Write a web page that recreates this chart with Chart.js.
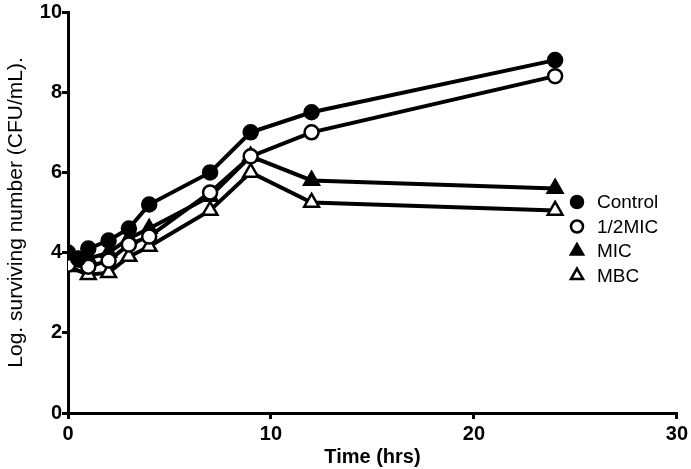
<!DOCTYPE html>
<html>
<head>
<meta charset="utf-8">
<script src="https://cdn.jsdelivr.net/npm/chart.js@4/dist/chart.umd.min.js"></script>
<style>
  html, body { margin: 0; padding: 0; background: #fff; }
  #wrap { width: 691px; height: 469px; position: relative; }
</style>
</head>
<body>
<div id="wrap"><canvas id="myChart"></canvas></div>
<script>
// time points (hrs)
const times = [0, 0.5, 1, 2, 3, 4, 7, 9, 12, 24];

// log CFU/mL (null = no point at that time)
const control = [4.0, 3.85, 4.1, 4.3, 4.6, 5.2, 6.0, 7.0, 7.5, 8.8];
const halfMic = [3.7, null, 3.65, 3.8, 4.2, 4.4, 5.5, 6.4, 7.0, 8.4];
const mic = [3.95, 3.8, 3.85, 4.0, 4.35, 4.6, 5.4, 6.4, 5.8, 5.6];
const mbc = [3.65, null, 3.45, 3.5, 3.9, 4.15, 5.05, 6.0, 5.25, 5.05];

const seriesLabels = ["Control", "1/2MIC", "MIC", "MBC"];
const xTicks = [0, 10, 20, 30];
const yTicks = [0, 2, 4, 6, 8, 10];

function toPoints(vals) {
    return times.map((t, i) => ({ x: t, y: vals[i] }));
}

function makeSet(label, vals, style, fill) {
    return {
        label: label,
        data: toPoints(vals),
        borderColor: "#000",
        borderWidth: 4,
        pointStyle: style,
        pointRadius: style === "triangle" ? 8.5 : 7,
        pointBorderWidth: 2.5,
        pointBorderColor: "#000",
        pointBackgroundColor: fill,
        spanGaps: true,
        tension: 0,
    };
}

// legend drawn at the right, inside the plot
const sideLegend = {
    id: "sideLegend",
    afterDatasetsDraw(chart) {
        const ctx = chart.ctx;
        const x0 = 577, y0 = 202, step = 24.5;
        ctx.save();
        chart.data.datasets.forEach((ds, i) => {
            const y = y0 + i * step;
            ctx.fillStyle = ds.pointBackgroundColor;
            ctx.strokeStyle = "#000";
            ctx.lineWidth = 2.5;
            Chart.helpers.drawPoint(ctx, {
                pointStyle: ds.pointStyle,
                radius: ds.pointStyle === "triangle" ? 7 : 6,
                borderWidth: 2.5
            }, x0, y);
            ctx.fillStyle = "#000";
            ctx.font = "19px 'Liberation Sans', Arial, sans-serif";
            ctx.textBaseline = "middle";
            ctx.textAlign = "left";
            ctx.fillText(ds.label, x0 + 20, y + 1);
        });
        ctx.restore();
    }
};

const ctx = document.getElementById("myChart").getContext("2d");

new Chart(ctx, {
    type: "line",
    data: {
        datasets: [
            makeSet(seriesLabels[0], control, "circle", "#000"),
            makeSet(seriesLabels[1], halfMic, "circle", "#fff"),
            makeSet(seriesLabels[2], mic, "triangle", "#000"),
            makeSet(seriesLabels[3], mbc, "triangle", "#fff"),
        ],
    },
    options: {
        responsive: true,
        maintainAspectRatio: false,
        animation: false,
        layout: { padding: { top: 8, right: 10, left: 0, bottom: 0 } },
        plugins: {
            legend: { display: false },
            tooltip: { enabled: false },
        },
        scales: {
            x: {
                type: "linear",
                min: 0,
                max: 30,
                afterFit: (s) => { s.height = 56; },
                afterBuildTicks: (s) => { s.ticks = xTicks.map(v => ({ value: v })); },
                border: { display: true, color: "#000", width: 3 },
                grid: { drawOnChartArea: false, drawTicks: true, tickLength: 6, color: "#000", lineWidth: 3 },
                ticks: {
                    color: "#000",
                    padding: 3,
                    maxRotation: 0,
                    font: { family: "'Liberation Sans', Arial, sans-serif", size: 20, weight: "bold" },
                },
                title: {
                    display: true,
                    text: "Time (hrs)",
                    color: "#000",
                    padding: { top: 0, bottom: 0 },
                    font: { family: "'Liberation Sans', Arial, sans-serif", size: 20, weight: "bold" },
                },
            },
            y: {
                min: 0,
                max: 10,
                afterFit: (s) => { s.width = 68; },
                afterBuildTicks: (s) => { s.ticks = yTicks.map(v => ({ value: v })); },
                border: { display: true, color: "#000", width: 3 },
                grid: { drawOnChartArea: false, drawTicks: true, tickLength: 6, color: "#000", lineWidth: 3 },
                ticks: {
                    color: "#000",
                    padding: 0,
                    font: { family: "'Liberation Sans', Arial, sans-serif", size: 20, weight: "bold" },
                },
                title: {
                    display: true,
                    text: "Log. surviving number (CFU/mL).",
                    color: "#000",
                    padding: { top: 4, bottom: 0 },
                    font: { family: "'Liberation Sans', Arial, sans-serif", size: 21 },
                },
            },
        },
    },
    plugins: [sideLegend],
});
</script>
</body>
</html>
